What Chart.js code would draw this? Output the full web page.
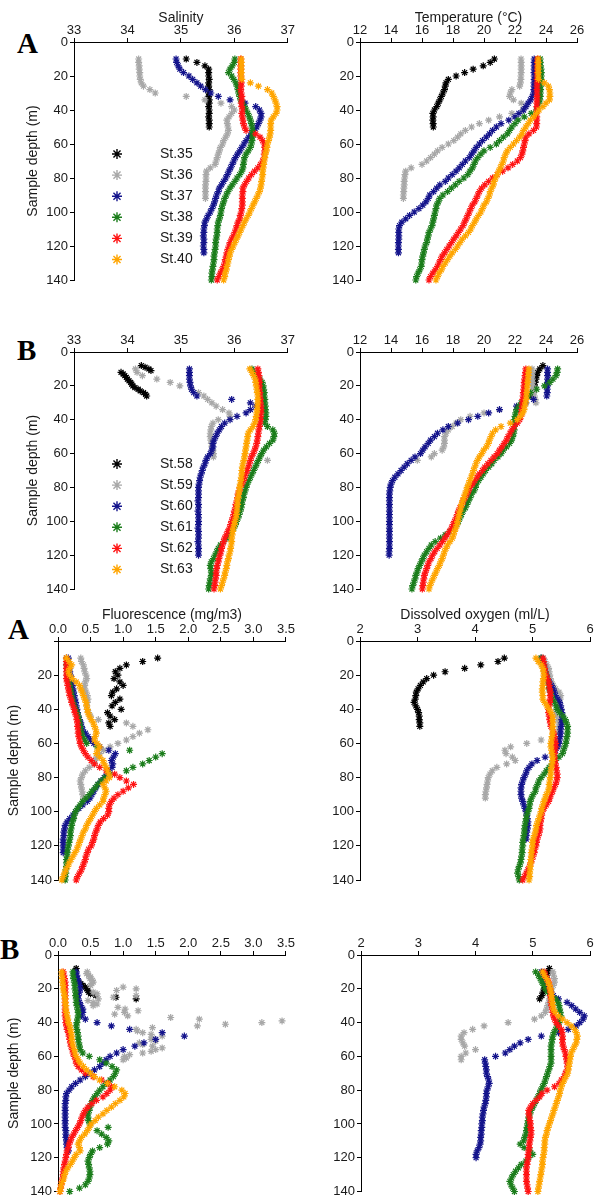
<!DOCTYPE html>
<html>
<head>
<meta charset="utf-8">
<script src="https://cdn.jsdelivr.net/npm/chart.js@4.4.1/dist/chart.umd.min.js"></script>
<style>
  body { margin: 0; background: #fff; }
  #figure { position: relative; width: 596px; height: 1200px; overflow: hidden; }
  #figure canvas { position: absolute; }
  .tag { position: absolute; font: bold 29px "Liberation Serif", "Times New Roman", serif; line-height: 29px; color: #000; }
</style>
</head>
<body>
<div id="figure">
  <div class="tag" style="left:17px;top:29px">A</div>
  <div class="tag" style="left:17px;top:336px">B</div>
  <div class="tag" style="left:8px;top:615px">A</div>
  <div class="tag" style="left:0px;top:935px">B</div>
</div>
<script>
// Sampling depths (m)
const DEPTHS = [10,12,14,16,18,20,22,24,26,28,30,32,34,36,38,40,42,44,46,48,50,52,54,56,58,60,62,64,66,68,70,72,74,76,78,80,82,84,86,88,90,92,94,96,98,100,102,104,106,108,110,112,114,116,118,120,122,124,126,128,130,132,134,136,138,140];
const DEPTHS_TOP8 = [8,10,12,14,16,18,20,22,24,26];
const DEPTHS_1M_TOP8 = [8,9,10,11,12,13,14,15,16,17,18,19,20,21,22,23,24,25,26];
const DEPTHS_1M = [10,11,12,13,14,15,16,17,18,19,20,21,22,23,24,25,26,27,28,29,30,31,32,33,34,35,36,37,38,39,40,41,42,43,44,45,46,47,48,49,50,51,52,53,54,55,56,57,58,59,60,61,62];

// Tick labels
const DEPTH_TICKS = [0, 20, 40, 60, 80, 100, 120, 140];
const SAL_TICKS = [33, 34, 35, 36, 37];
const TEMP_TICKS = [12, 14, 16, 18, 20, 22, 24, 26];
const FLUOR_TICKS = [0, 0.5, 1.0, 1.5, 2.0, 2.5, 3.0, 3.5];
const DO_TICKS = [2, 3, 4, 5, 6];

const STATIONS_A = ['St.35', 'St.36', 'St.37', 'St.38', 'St.39', 'St.40'];
const STATIONS_B = ['St.58', 'St.59', 'St.60', 'St.61', 'St.62', 'St.63'];
const COLORS = ['#000000', '#a8a8a8', '#14148c', '#1b7d1b', '#ff1414', '#ffa500'];

// ---- Salinity, cruise A ----
const salA_st35 = [35.10,35.30,35.45,35.52,35.52,35.52,35.53,35.52,35.52,35.53,35.52,35.52,35.53,35.53,35.52,35.53,35.53,35.52,35.53,35.53,35.53];
const salA_st36 = [34.21,34.21,34.22,34.22,34.23,34.23,34.24,34.26,34.30,34.42,34.52,35.10,35.45,35.75,35.95,36.00,35.95,35.90,35.86,35.87,35.88,35.89,35.87,35.84,35.80,35.78,35.74,35.72,35.70,35.68,35.66,35.64,35.55,35.48,35.47,35.47,35.47,35.46,35.46,35.46,35.46,35.46];
const salA_st37 = [34.91,34.92,34.95,34.98,35.05,35.15,35.22,35.30,35.37,35.46,35.56,35.70,35.92,36.20,36.40,36.47,36.50,36.50,36.48,36.45,36.42,36.37,36.32,36.27,36.22,36.18,36.14,36.10,36.06,36.02,35.99,35.96,35.93,35.90,35.87,35.84,35.80,35.76,35.72,35.70,35.67,35.65,35.63,35.61,35.58,35.55,35.51,35.48,35.45,35.44,35.43,35.43,35.42,35.43,35.43,35.42,35.43,35.43];
const salA_st38 = [36.01,36.00,35.96,35.92,35.89,35.95,35.99,36.03,36.05,36.07,36.08,36.10,36.12,36.15,36.19,36.22,36.25,36.28,36.30,36.32,36.33,36.34,36.34,36.34,36.33,36.32,36.30,36.26,36.22,36.19,36.18,36.17,36.16,36.14,36.10,36.05,36.01,35.96,35.92,35.88,35.85,35.82,35.80,35.78,35.76,35.75,35.74,35.72,35.70,35.69,35.68,35.68,35.67,35.66,35.65,35.65,35.64,35.63,35.62,35.62,35.61,35.60,35.59,35.58,35.58,35.57];
const salA_st39 = [36.12,36.12,36.12,36.12,36.12,36.12,36.13,36.13,36.13,36.12,36.13,36.14,36.14,36.13,36.14,36.15,36.14,36.15,36.16,36.17,36.19,36.22,36.40,36.48,36.53,36.56,36.57,36.57,36.56,36.56,36.53,36.49,36.44,36.38,36.32,36.27,36.23,36.19,36.16,36.16,36.15,36.15,36.15,36.15,36.14,36.13,36.11,36.10,36.07,36.05,36.03,36.01,35.98,35.95,35.92,35.90,35.88,35.86,35.85,35.83,35.82,35.80,35.77,35.74,35.71,35.68];
const salA_st40 = [36.13,36.13,36.13,36.13,36.13,36.13,36.14,36.30,36.45,36.62,36.70,36.73,36.76,36.78,36.80,36.80,36.78,36.73,36.69,36.68,36.68,36.68,36.67,36.66,36.64,36.62,36.61,36.60,36.58,36.57,36.56,36.55,36.54,36.53,36.53,36.52,36.51,36.50,36.49,36.47,36.44,36.41,36.38,36.35,36.32,36.29,36.26,36.22,36.19,36.16,36.13,36.10,36.07,36.04,36.01,35.98,35.95,35.92,35.91,35.89,35.88,35.86,35.85,35.83,35.82,35.80];

// ---- Temperature, cruise A ----
const tempA_st35 = [20.67,20.40,19.95,19.30,18.75,18.20,17.70,17.55,17.50,17.45,17.35,17.25,17.15,17.05,16.95,16.80,16.70,16.72,16.70,16.72,16.73];
const tempA_st36 = [22.39,22.40,22.40,22.40,22.40,22.38,22.38,22.35,22.30,21.80,21.70,21.65,21.90,22.40,22.70,22.50,21.80,21.00,20.30,19.70,19.20,18.80,18.50,18.30,18.05,17.70,17.30,17.00,16.80,16.55,16.30,16.00,15.30,14.95,14.90,14.88,14.85,14.85,14.83,14.82,14.80,14.80];
const tempA_st37 = [23.24,23.24,23.24,23.24,23.23,23.24,23.24,23.23,23.23,23.22,23.20,23.12,23.00,22.85,22.70,22.55,22.25,22.00,21.60,21.10,20.80,20.55,20.35,20.15,19.90,19.70,19.50,19.35,19.20,19.05,18.80,18.60,18.40,18.20,17.95,17.70,17.50,17.15,16.95,16.75,16.50,16.40,16.25,16.05,15.80,15.50,15.20,14.95,14.70,14.55,14.50,14.50,14.50,14.50,14.48,14.48,14.48,14.48];
const tempA_st38 = [23.63,23.63,23.65,23.68,23.70,23.70,23.68,23.66,23.65,23.65,23.64,23.63,23.60,23.55,23.48,23.38,23.05,22.60,22.20,22.00,21.80,21.65,21.50,21.25,21.00,20.80,20.40,20.00,19.80,19.60,19.45,19.35,19.25,19.10,18.95,18.70,18.40,18.15,17.90,17.65,17.35,17.15,17.05,16.95,16.90,16.85,16.80,16.75,16.70,16.65,16.55,16.45,16.40,16.35,16.30,16.20,16.15,16.10,16.05,16.00,15.98,15.95,15.85,15.75,15.65,15.60];
const tempA_st39 = [23.45,23.45,23.44,23.44,23.44,23.43,23.43,23.43,23.42,23.42,23.42,23.42,23.42,23.41,23.41,23.41,23.40,23.40,23.40,23.40,23.38,23.20,22.90,22.70,22.65,22.60,22.55,22.50,22.45,22.35,22.15,21.85,21.55,21.20,20.85,20.55,20.30,20.05,19.85,19.70,19.60,19.50,19.40,19.25,19.15,19.05,18.95,18.85,18.75,18.65,18.50,18.35,18.20,18.05,17.90,17.75,17.60,17.45,17.30,17.20,17.10,17.00,16.85,16.70,16.55,16.45];
const tempA_st40 = [23.50,23.50,23.50,23.50,23.50,23.50,23.52,23.90,24.15,24.22,24.25,24.25,24.22,24.00,23.80,23.55,23.38,23.20,23.00,22.85,22.70,22.55,22.45,22.30,22.10,21.90,21.70,21.50,21.40,21.30,21.25,21.15,21.05,20.95,20.85,20.75,20.65,20.60,20.50,20.40,20.35,20.25,20.15,20.00,19.90,19.80,19.65,19.50,19.40,19.25,19.15,19.00,18.80,18.60,18.45,18.30,18.15,17.95,17.80,17.65,17.50,17.35,17.25,17.10,17.00,16.90];

// ---- Salinity, cruise B ----
const salB_st58 = [34.26,34.33,34.40,34.44,33.88,33.92,33.95,33.98,34.00,34.03,34.06,34.08,34.10,34.14,34.20,34.24,34.30,34.34,34.36];
const salB_st59 = [34.15,34.18,34.28,34.55,34.80,34.98,35.20,35.33,35.43,35.50,35.58,35.66,35.78,35.90,35.92,35.70,35.60,35.57,35.56,35.55,35.55,35.56,35.57,35.58,35.60,35.61,35.61,36.62];
const salB_st60 = [35.16,35.16,35.16,35.16,35.17,35.18,35.20,35.24,35.30,35.95,36.30,36.40,36.30,36.22,36.05,35.92,35.82,35.76,35.72,35.68,35.65,35.62,35.60,35.60,35.58,35.55,35.50,35.47,35.45,35.42,35.40,35.38,35.36,35.35,35.34,35.33,35.33,35.33,35.33,35.32,35.33,35.33,35.32,35.33,35.33,35.33,35.33,35.32,35.33,35.33,35.33,35.32,35.33,35.33,35.33,35.33];
const salB_st61 = [36.33,36.38,36.43,36.48,36.52,36.54,36.55,36.56,36.56,36.57,36.57,36.58,36.58,36.59,36.59,36.58,36.57,36.62,36.72,36.75,36.74,36.72,36.66,36.60,36.55,36.51,36.48,36.45,36.42,36.39,36.36,36.33,36.30,36.27,36.24,36.22,36.20,36.18,36.17,36.15,36.14,36.13,36.11,36.09,36.07,36.04,36.02,35.99,35.95,35.90,35.86,35.80,35.74,35.70,35.67,35.64,35.61,35.57,35.55,35.56,35.57,35.57,35.55,35.54,35.53,35.52];
const salB_st62 = [36.44,36.45,36.46,36.47,36.47,36.47,36.47,36.48,36.48,36.49,36.49,36.50,36.50,36.50,36.49,36.49,36.48,36.47,36.46,36.45,36.44,36.43,36.42,36.40,36.38,36.35,36.32,36.30,36.28,36.26,36.24,36.21,36.19,36.17,36.14,36.11,36.09,36.07,36.06,36.05,36.03,36.02,36.00,35.99,35.97,35.95,35.93,35.91,35.88,35.85,35.82,35.80,35.78,35.76,35.75,35.73,35.71,35.70,35.68,35.67,35.66,35.66,35.65,35.64,35.63,35.62];
const salB_st63 = [36.29,36.33,36.36,36.39,36.40,36.41,36.42,36.43,36.44,36.44,36.44,36.43,36.43,36.42,36.41,36.40,36.38,36.35,36.30,36.26,36.25,36.24,36.23,36.22,36.21,36.20,36.19,36.18,36.16,36.15,36.14,36.14,36.13,36.12,36.11,36.10,36.09,36.08,36.07,36.06,36.06,36.05,36.05,36.04,36.03,36.01,36.00,35.98,35.97,35.96,35.95,35.95,35.94,35.93,35.92,35.90,35.89,35.87,35.86,35.85,35.83,35.82,35.80,35.78,35.76,35.74];

// ---- Temperature, cruise B ----
const tempB_st58 = [23.80,23.60,23.46,23.40,23.35,23.30,23.25,23.20,23.14,23.08];
const tempB_st59 = [23.10,23.10,23.10,23.12,23.12,23.15,23.18,23.20,23.25,23.30,23.35,22.40,21.00,20.00,19.10,18.50,18.20,17.95,17.70,17.55,17.45,17.45,17.45,17.40,17.30,16.80,16.60,15.70];
const tempB_st60 = [24.10,24.10,24.10,24.10,24.10,24.10,24.08,24.08,24.05,23.20,22.70,22.10,21.00,20.30,19.60,19.00,18.30,17.70,17.35,17.00,16.80,16.55,16.40,16.20,16.05,15.90,15.55,15.30,15.05,14.85,14.65,14.45,14.25,14.10,14.00,13.95,13.92,13.90,13.90,13.90,13.90,13.90,13.90,13.90,13.90,13.90,13.90,13.90,13.90,13.90,13.90,13.90,13.90,13.90,13.88,13.88];
const tempB_st61 = [24.75,24.72,24.65,24.45,24.25,23.90,23.40,23.00,22.85,22.65,22.40,22.25,22.10,22.05,22.00,21.98,21.97,21.96,21.95,21.92,21.85,21.78,21.65,21.45,21.25,21.10,20.90,20.65,20.50,20.30,20.10,19.95,19.80,19.65,19.50,19.45,19.35,19.20,19.10,19.00,18.90,18.80,18.65,18.55,18.45,18.35,18.25,18.05,17.80,17.50,17.20,16.85,16.60,16.45,16.30,16.15,16.05,15.95,15.85,15.75,15.68,15.60,15.55,15.48,15.40,15.35];
const tempB_st62 = [22.70,22.68,22.65,22.62,22.60,22.58,22.56,22.54,22.52,22.50,22.48,22.46,22.44,22.42,22.38,22.30,22.15,21.95,21.80,21.68,21.55,21.45,21.30,21.15,21.00,20.85,20.65,20.45,20.25,20.05,19.90,19.70,19.55,19.40,19.25,19.10,19.00,18.90,18.78,18.66,18.58,18.45,18.35,18.28,18.20,18.10,18.00,17.90,17.78,17.62,17.48,17.32,17.15,16.98,16.82,16.68,16.58,16.45,16.37,16.30,16.22,16.15,16.12,16.08,16.05,16.02];
const tempB_st63 = [22.90,22.88,22.86,22.84,22.82,22.80,22.78,22.76,22.74,22.72,22.68,22.63,22.58,22.50,22.35,22.15,21.70,21.10,20.75,20.55,20.45,20.35,20.28,20.15,19.98,19.85,19.70,19.58,19.48,19.40,19.32,19.25,19.17,19.08,19.00,18.92,18.85,18.78,18.70,18.62,18.55,18.50,18.45,18.40,18.35,18.30,18.25,18.18,18.10,18.03,17.96,17.80,17.65,17.55,17.45,17.38,17.30,17.20,17.12,17.00,16.90,16.80,16.70,16.60,16.50,16.45];

// ---- Fluorescence, cruise A ----
const fluA_st35 = [1.53,1.30,1.05,0.95,0.88,0.92,0.86,0.95,1.00,0.90,0.84,0.82,0.95,0.88,0.83,0.97,0.76,0.80,0.87,0.78,0.80];
const fluA_st36 = [0.35,0.36,0.39,0.40,0.41,0.43,0.44,0.42,0.41,0.41,0.43,0.45,0.46,0.45,0.44,0.45,0.47,0.50,0.62,1.05,1.15,1.38,1.25,1.15,1.05,0.92,0.80,0.70,0.64,0.59,0.57,0.55,0.48,0.42,0.38,0.36,0.34,0.35,0.36,0.37,0.38,0.39];
const fluA_st37 = [0.16,0.16,0.17,0.18,0.18,0.19,0.20,0.21,0.22,0.23,0.24,0.25,0.26,0.27,0.28,0.29,0.30,0.31,0.33,0.35,0.36,0.38,0.42,0.46,0.50,0.55,0.64,0.78,0.88,0.85,0.82,0.84,0.83,0.78,0.75,0.71,0.66,0.62,0.58,0.55,0.52,0.49,0.45,0.38,0.32,0.27,0.23,0.18,0.14,0.11,0.10,0.09,0.09,0.08,0.08,0.08,0.08,0.08];
const fluA_st38 = [0.13,0.13,0.13,0.14,0.14,0.15,0.16,0.17,0.18,0.19,0.20,0.21,0.22,0.23,0.25,0.27,0.29,0.31,0.32,0.33,0.34,0.35,0.36,0.38,0.41,0.44,0.60,1.10,1.60,1.50,1.40,1.30,1.15,1.05,0.80,0.72,0.66,0.61,0.57,0.52,0.48,0.43,0.38,0.34,0.30,0.27,0.25,0.24,0.22,0.21,0.20,0.19,0.19,0.18,0.17,0.16,0.15,0.14,0.14,0.13,0.13,0.13,0.12,0.12,0.11,0.11];
const fluA_st39 = [0.13,0.13,0.13,0.13,0.13,0.13,0.13,0.14,0.15,0.16,0.17,0.18,0.20,0.21,0.23,0.25,0.26,0.28,0.29,0.30,0.30,0.31,0.31,0.32,0.33,0.34,0.36,0.39,0.42,0.46,0.51,0.56,0.64,0.74,0.87,0.95,1.05,1.16,1.08,1.00,0.92,0.86,0.82,0.79,0.78,0.78,0.76,0.70,0.65,0.62,0.60,0.58,0.56,0.55,0.53,0.51,0.47,0.45,0.43,0.42,0.40,0.38,0.36,0.33,0.30,0.28];
const fluA_st40 = [0.13,0.17,0.21,0.18,0.16,0.18,0.22,0.28,0.33,0.35,0.37,0.39,0.41,0.43,0.44,0.45,0.46,0.48,0.51,0.54,0.56,0.58,0.59,0.57,0.56,0.60,0.64,0.61,0.59,0.64,0.69,0.71,0.74,0.76,0.78,0.79,0.74,0.69,0.72,0.74,0.72,0.70,0.69,0.64,0.59,0.56,0.53,0.50,0.47,0.44,0.42,0.39,0.37,0.35,0.33,0.31,0.29,0.26,0.23,0.20,0.17,0.15,0.12,0.10,0.08,0.06];

// ---- Dissolved oxygen, cruise A ----
const doA_st35 = [4.51,4.40,4.10,3.82,3.48,3.28,3.16,3.10,3.05,3.01,2.98,2.97,2.96,2.94,2.97,3.00,3.02,3.03,3.03,3.04,3.04];
const doA_st36 = [5.19,5.22,5.25,5.28,5.29,5.30,5.31,5.33,5.36,5.40,5.46,5.49,5.48,5.46,5.44,5.42,5.40,5.42,5.44,5.46,5.46,5.46,5.45,5.35,5.15,4.90,4.62,4.52,4.54,4.65,4.70,4.55,4.38,4.30,4.26,4.23,4.22,4.21,4.20,4.19,4.18,4.18];
const doA_st37 = [5.15,5.17,5.19,5.21,5.22,5.23,5.26,5.29,5.33,5.36,5.38,5.40,5.44,5.47,5.49,5.50,5.51,5.52,5.51,5.51,5.50,5.49,5.49,5.48,5.47,5.46,5.44,5.40,5.35,5.22,5.08,4.99,4.94,4.90,4.88,4.85,4.83,4.81,4.80,4.80,4.80,4.81,4.83,4.85,4.87,4.89,4.90,4.91,4.92,4.92,4.91,4.90,4.89,4.89];
const doA_st38 = [5.15,5.17,5.19,5.20,5.22,5.24,5.26,5.27,5.28,5.29,5.31,5.33,5.35,5.38,5.41,5.43,5.47,5.53,5.57,5.59,5.61,5.61,5.61,5.60,5.59,5.58,5.56,5.54,5.52,5.46,5.40,5.34,5.29,5.24,5.20,5.15,5.11,5.09,5.06,5.05,5.01,4.98,4.96,4.95,4.94,4.92,4.90,4.89,4.88,4.87,4.86,4.86,4.85,4.84,4.83,4.83,4.82,4.82,4.81,4.80,4.79,4.77,4.75,4.74,4.76,4.77];
const doA_st39 = [5.18,5.19,5.20,5.21,5.22,5.24,5.26,5.28,5.29,5.30,5.31,5.31,5.31,5.30,5.29,5.28,5.28,5.29,5.30,5.31,5.32,5.35,5.37,5.38,5.39,5.40,5.40,5.39,5.38,5.38,5.39,5.40,5.41,5.42,5.43,5.43,5.42,5.40,5.37,5.35,5.32,5.30,5.28,5.24,5.20,5.17,5.16,5.15,5.14,5.13,5.13,5.12,5.10,5.08,5.07,5.06,5.04,5.03,5.01,4.99,4.97,4.95,4.92,4.89,4.86,4.83];
const doA_st40 = [5.06,5.10,5.15,5.18,5.19,5.20,5.19,5.18,5.18,5.17,5.17,5.18,5.18,5.21,5.25,5.29,5.32,5.35,5.35,5.35,5.35,5.35,5.35,5.34,5.33,5.32,5.32,5.33,5.34,5.35,5.35,5.34,5.33,5.32,5.32,5.31,5.30,5.29,5.29,5.27,5.24,5.22,5.20,5.18,5.16,5.15,5.13,5.11,5.09,5.07,5.06,5.05,5.03,5.01,5.00,5.00,4.99,4.98,4.98,4.97,4.97,4.96,4.96,4.95,4.95,4.94];

// ---- Fluorescence, cruise B ----
const fluB_st58 = [0.28,0.27,0.26,0.26,0.26,0.27,0.28,0.30,0.32,0.35,0.38,0.42,0.44,0.46,0.47,0.50,0.58,0.89,1.20];
const fluB_st59 = [0.45,0.44,0.47,0.50,0.49,0.53,0.54,0.52,0.50,1.00,1.20,0.90,0.54,0.60,1.20,0.85,0.62,0.46,0.54,0.60,0.54,0.92,1.03,1.23,1.02,0.87,1.07,1.73,2.17,3.44,3.13,2.57,2.14,1.45,1.20,1.22,1.30,1.43,1.60,1.45,1.43,1.50,1.25,1.30,1.45,1.60,1.50,1.43,1.30,1.10,1.02,1.05,1.00];
const fluB_st60 = [0.28,0.29,0.30,0.32,0.33,0.34,0.33,0.31,0.31,0.33,0.35,0.38,0.38,0.36,0.42,0.60,0.82,1.10,1.60,1.94,1.50,1.32,1.18,1.00,0.90,0.80,0.74,0.69,0.64,0.56,0.49,0.42,0.34,0.27,0.21,0.17,0.13,0.12,0.12,0.11,0.11,0.11,0.11,0.11,0.11,0.11,0.11,0.12,0.12,0.12,0.13,0.13,0.14,0.16];
const fluB_st61 = [0.23,0.23,0.24,0.25,0.26,0.26,0.27,0.27,0.28,0.28,0.29,0.30,0.31,0.31,0.30,0.29,0.28,0.29,0.30,0.31,0.31,0.32,0.33,0.34,0.38,0.48,0.64,0.74,0.83,0.90,0.88,0.85,0.80,0.74,0.69,0.64,0.60,0.56,0.53,0.51,0.49,0.48,0.46,0.46,0.47,0.49,0.77,0.60,0.67,0.74,0.78,0.76,0.64,0.53,0.50,0.48,0.46,0.47,0.48,0.49,0.49,0.48,0.46,0.42,0.33,0.18];
const fluB_st62 = [0.08,0.09,0.10,0.11,0.11,0.11,0.11,0.11,0.11,0.11,0.11,0.11,0.11,0.11,0.12,0.12,0.13,0.14,0.16,0.17,0.18,0.19,0.20,0.22,0.23,0.25,0.27,0.28,0.31,0.36,0.42,0.54,0.67,0.77,0.82,0.80,0.75,0.69,0.59,0.52,0.46,0.42,0.39,0.37,0.35,0.33,0.30,0.27,0.24,0.21,0.19,0.17,0.16,0.14,0.13,0.12,0.11,0.10,0.09,0.08,0.08,0.07,0.06,0.05,0.04,0.03];
const fluB_st63 = [0.06,0.06,0.07,0.07,0.08,0.08,0.09,0.10,0.11,0.11,0.12,0.12,0.13,0.14,0.15,0.16,0.18,0.19,0.20,0.21,0.21,0.22,0.23,0.25,0.26,0.28,0.31,0.34,0.39,0.44,0.50,0.56,0.64,0.76,0.87,0.98,1.03,1.01,0.95,0.88,0.82,0.75,0.69,0.62,0.57,0.51,0.48,0.45,0.41,0.36,0.33,0.31,0.33,0.34,0.28,0.25,0.22,0.19,0.15,0.12,0.10,0.09,0.07,0.05,0.04,0.03];

// ---- Dissolved oxygen, cruise B ----
const doB_st58 = [5.29,5.27,5.25,5.24,5.22,5.21,5.20,5.18,5.16,5.12];
const doB_st59 = [5.35,5.36,5.38,5.38,5.36,5.33,5.31,5.30,5.29,5.28,5.26,5.24,5.22,5.15,5.03,4.57,4.15,3.95,3.80,3.75,3.75,3.78,3.81,4.00,3.83,3.75,3.75];
const doB_st60 = [5.15,5.17,5.19,5.22,5.25,5.28,5.32,5.36,5.45,5.60,5.68,5.75,5.82,5.90,5.88,5.82,5.76,5.62,5.45,5.15,4.92,4.78,4.68,4.60,4.52,4.35,4.16,4.17,4.18,4.19,4.19,4.21,4.23,4.24,4.22,4.20,4.19,4.19,4.18,4.17,4.15,4.14,4.13,4.12,4.12,4.11,4.11,4.10,4.10,4.09,4.09,4.08,4.06,4.03,4.01,4.01];
const doB_st61 = [5.05,5.10,5.13,5.16,5.19,5.22,5.26,5.32,5.40,5.44,5.46,5.47,5.48,5.49,5.48,5.46,5.43,5.40,5.37,5.35,5.34,5.33,5.32,5.32,5.32,5.32,5.32,5.32,5.30,5.28,5.26,5.24,5.22,5.20,5.17,5.14,5.12,5.09,5.06,5.03,5.00,4.97,4.95,4.93,4.92,4.91,4.90,4.89,4.88,4.86,4.84,4.78,4.85,4.95,5.00,4.93,4.88,4.80,4.75,4.70,4.66,4.63,4.60,4.62,4.65,4.68];
const doB_st62 = [5.20,5.22,5.25,5.28,5.29,5.30,5.31,5.31,5.32,5.32,5.33,5.34,5.35,5.36,5.38,5.41,5.45,5.50,5.51,5.52,5.52,5.52,5.53,5.55,5.57,5.58,5.59,5.60,5.61,5.60,5.57,5.55,5.50,5.46,5.38,5.25,5.16,5.12,5.06,5.00,4.96,4.93,4.93,4.94,4.95,4.96,4.96,4.97,4.97,4.96,4.95,4.94,4.94,4.93,4.92,4.92,4.91,4.90,4.89,4.89,4.89,4.89,4.89,4.90,4.91,4.92];
const doB_st63 = [5.17,5.20,5.24,5.27,5.29,5.31,5.32,5.33,5.33,5.34,5.35,5.36,5.39,5.45,5.52,5.60,5.67,5.73,5.76,5.78,5.77,5.76,5.73,5.70,5.67,5.66,5.65,5.64,5.63,5.62,5.61,5.58,5.55,5.52,5.50,5.48,5.47,5.45,5.43,5.41,5.39,5.37,5.35,5.33,5.31,5.29,5.27,5.25,5.24,5.22,5.21,5.21,5.20,5.20,5.19,5.18,5.17,5.17,5.16,5.15,5.14,5.13,5.12,5.11,5.10,5.09];

const FONT = '"Liberation Sans", Arial, Helvetica, sans-serif';
Chart.defaults.font.family = FONT;

// box = canvas [left, top, width, height]; plot = chart area [left, top, right, bottom] in page pixels
const PANELS = [
  { box: [0, 0, 296, 300], plot: [74, 42, 292, 280], xTicks: SAL_TICKS, xTitle: 'Salinity', xTitleY: 18, yTitleX: 33,
    legend: { labels: STATIONS_A, starX: 117, textX: 160, y: 154, gap: 21.1 },
    series: [[salA_st35], [salA_st36], [salA_st37], [salA_st38], [salA_st39], [salA_st40]] },
  { box: [296, 0, 300, 300], plot: [360, 42, 577, 280], xTicks: TEMP_TICKS, xTitle: 'Temperature (°C)', xTitleY: 18,
    series: [[tempA_st35], [tempA_st36], [tempA_st37], [tempA_st38], [tempA_st39], [tempA_st40]] },
  { box: [0, 300, 296, 300], plot: [74, 352, 292, 589], xTicks: SAL_TICKS, yTitleX: 33,
    legend: { labels: STATIONS_B, starX: 117, textX: 160, y: 164, gap: 21.1 },
    series: [[salB_st58, DEPTHS_1M_TOP8], [salB_st59], [salB_st60], [salB_st61], [salB_st62], [salB_st63]] },
  { box: [296, 300, 300, 300], plot: [360, 352, 577, 589], xTicks: TEMP_TICKS,
    series: [[tempB_st58, DEPTHS_TOP8], [tempB_st59], [tempB_st60], [tempB_st61], [tempB_st62], [tempB_st63]] },
  { box: [0, 600, 296, 300], plot: [58, 641, 287, 880], xTicks: FLUOR_TICKS, xTitle: 'Fluorescence (mg/m3)', xTitleY: 15, yTitleX: 14,
    decimals: 1, hideZero: true,
    series: [[fluA_st35], [fluA_st36], [fluA_st37], [fluA_st38], [fluA_st39], [fluA_st40]] },
  { box: [296, 600, 300, 300], plot: [360, 641, 590, 880], xTicks: DO_TICKS, xTitle: 'Dissolved oxygen (ml/L)', xTitleY: 15,
    series: [[doA_st35], [doA_st36], [doA_st37], [doA_st38], [doA_st39], [doA_st40]] },
  { box: [0, 900, 296, 300], plot: [58, 955, 287, 1192], xTicks: FLUOR_TICKS, yTitleX: 14, decimals: 1,
    series: [[fluB_st58, DEPTHS_1M_TOP8], [fluB_st59, DEPTHS_1M], [fluB_st60], [fluB_st61], [fluB_st62], [fluB_st63]] },
  { box: [296, 900, 300, 300], plot: [361, 955, 590, 1192], xTicks: DO_TICKS,
    series: [[doB_st58, DEPTHS_TOP8], [doB_st59], [doB_st60], [doB_st61], [doB_st62], [doB_st63]] }
];

function profile(values, depths) {
  return values.map((v, i) => ({ x: v, y: depths[i] }));
}

// station legend drawn inside the plot
const stationLegend = {
  id: 'stationLegend',
  afterDatasetsDraw(chart, args, opts) {
    if (!opts.labels) return;
    const ctx = chart.ctx;
    ctx.save();
    ctx.font = '14px ' + FONT;
    ctx.textBaseline = 'middle';
    opts.labels.forEach((label, i) => {
      const y = opts.y + i * opts.gap;
      ctx.strokeStyle = COLORS[i];
      ctx.fillStyle = COLORS[i];
      ctx.lineWidth = 1.4;
      Chart.helpers.drawPoint(ctx, { pointStyle: 'star', radius: 5, rotation: 0, borderWidth: 1.4 }, opts.starX, y);
      ctx.fillStyle = '#1a1a1a';
      ctx.fillText(label, opts.textX, y);
    });
    ctx.restore();
  }
};

function makePanel(p) {
  const [bl, bt, bw, bh] = p.box;
  const [pl, pt, pr, pb] = p.plot;
  const canvas = document.createElement('canvas');
  canvas.width = bw;
  canvas.height = bh;
  canvas.style.left = bl + 'px';
  canvas.style.top = bt + 'px';
  canvas.style.width = bw + 'px';
  canvas.style.height = bh + 'px';
  document.getElementById('figure').appendChild(canvas);

  const datasets = p.series.map((s, i) => ({
    data: profile(s[0], s[1] || DEPTHS),
    pointStyle: 'star',
    pointRadius: 3.5,
    pointBorderWidth: 1.2,
    borderColor: COLORS[i],
    backgroundColor: COLORS[i],
    showLine: false,
    order: 5 - i,
    clip: false
  }));

  const tickFont = { size: 13, family: FONT, lineHeight: 1 };
  const axisGrid = { display: true, drawOnChartArea: false, drawTicks: true, tickLength: 4, color: '#000' };
  const yLeft = pl - bl;

  new Chart(canvas, {
    type: 'scatter',
    data: { datasets },
    plugins: [stationLegend],
    options: {
      responsive: false,
      animation: false,
      events: [],
      layout: { autoPadding: false, padding: { left: 0, top: 0, right: bl + bw - pr, bottom: bt + bh - pb } },
      plugins: {
        legend: { display: false },
        tooltip: { enabled: false },
        stationLegend: p.legend || {}
      },
      scales: {
        x: {
          type: 'linear',
          position: 'top',
          min: p.xTicks[0],
          max: p.xTicks[p.xTicks.length - 1],
          afterBuildTicks: s => { s.ticks = p.xTicks.map(v => ({ value: v })); },
          afterFit: s => { s.height = pt - bt; },
          ticks: {
            autoSkip: false, maxRotation: 0, padding: 1, color: '#1a1a1a', font: tickFont,
            callback: v => p.decimals ? v.toFixed(p.decimals) : String(v)
          },
          grid: axisGrid,
          border: { display: true, color: '#000', width: 1 },
          title: {
            display: !!p.xTitle, text: p.xTitle || '', color: '#1a1a1a',
            font: { size: 14, family: FONT },
            padding: { top: (p.xTitleY || 0) - 8.4, bottom: 0 }
          }
        },
        y: {
          type: 'linear',
          reverse: true,
          min: DEPTH_TICKS[0],
          max: DEPTH_TICKS[DEPTH_TICKS.length - 1],
          afterBuildTicks: s => { s.ticks = DEPTH_TICKS.map(v => ({ value: v })); },
          afterFit: s => { s.width = yLeft; },
          ticks: {
            autoSkip: false, padding: 2, color: '#1a1a1a', font: tickFont,
            callback: v => (p.hideZero && v === 0) ? '' : String(v)
          },
          grid: axisGrid,
          border: { display: true, color: '#000', width: 1 },
          title: {
            display: !!p.yTitleX, text: 'Sample depth (m)', color: '#1a1a1a',
            font: { size: 14, family: FONT },
            padding: { top: (p.yTitleX || 0) - 8.4, bottom: 0 }
          }
        }
      }
    }
  });
}

PANELS.forEach(makePanel);
</script>
</body>
</html>
